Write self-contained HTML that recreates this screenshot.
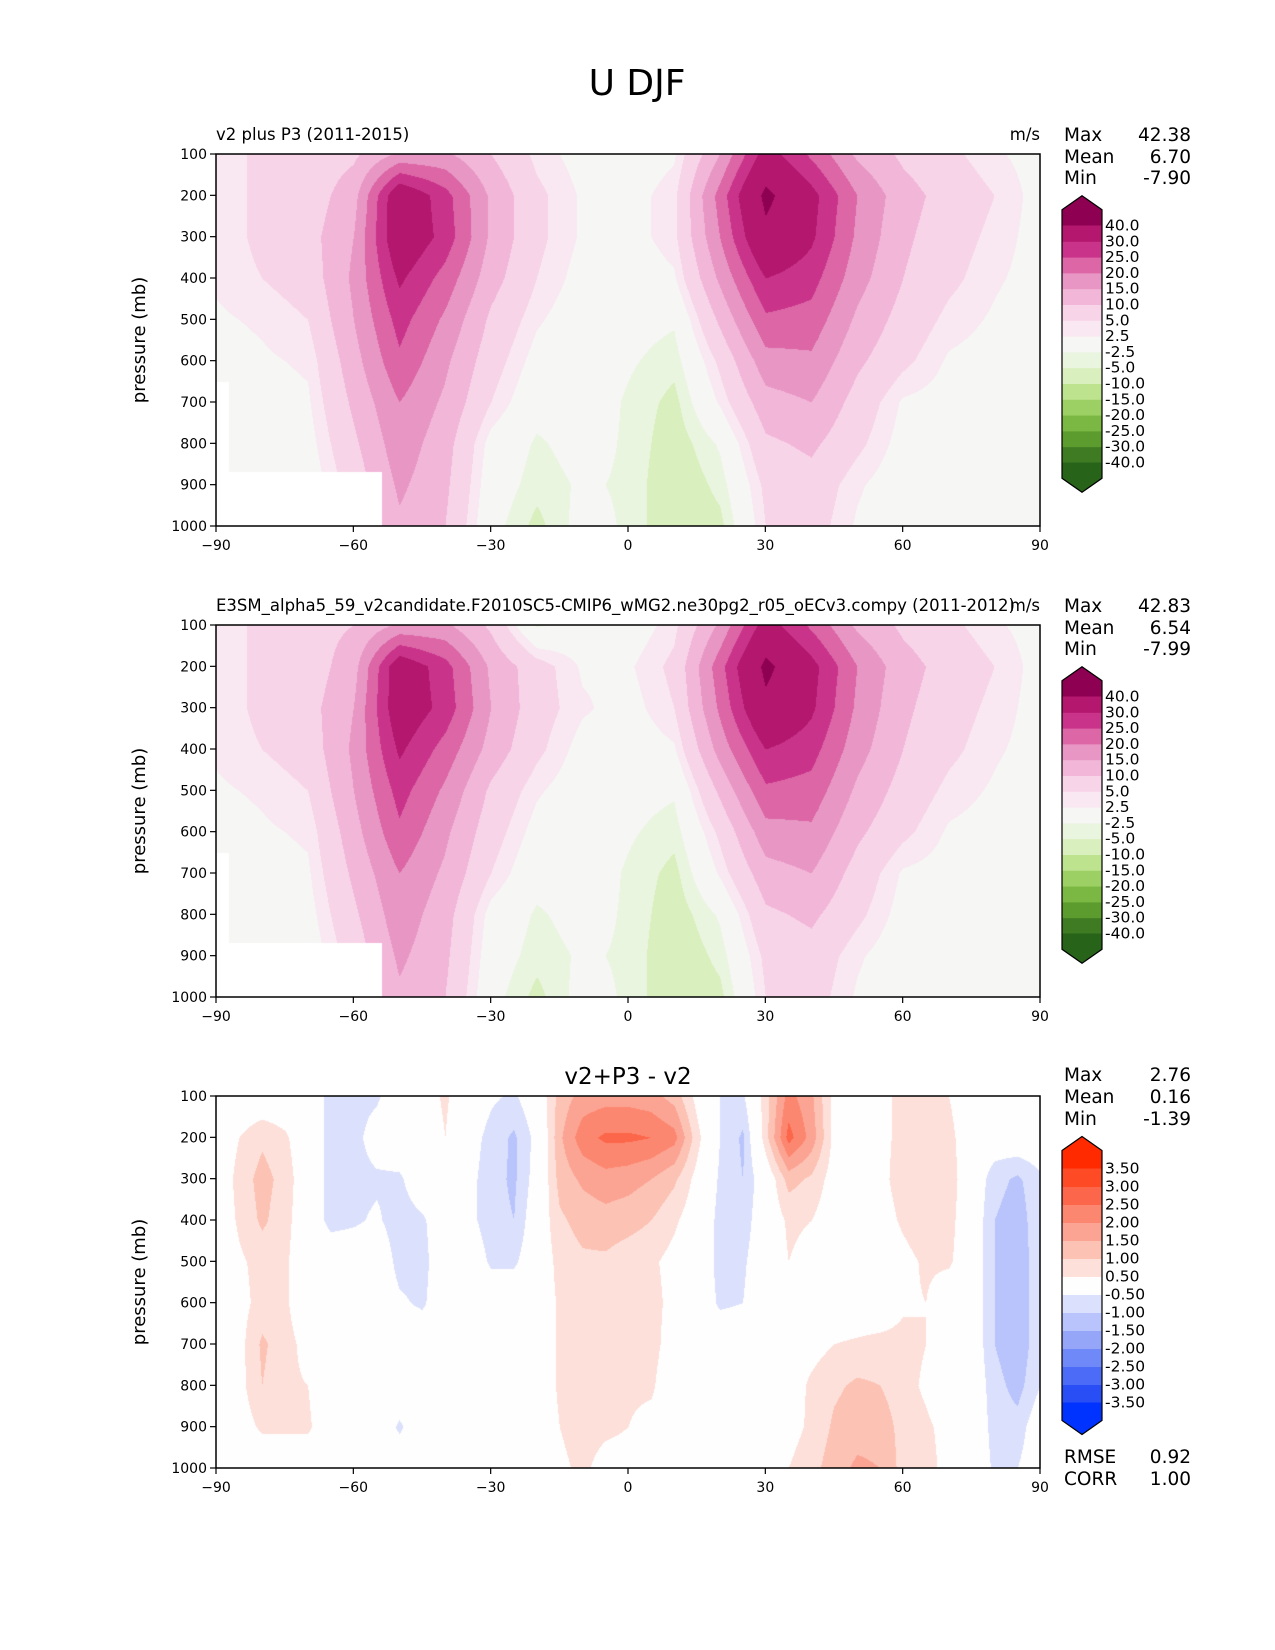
<!DOCTYPE html>
<html><head><meta charset="utf-8">
<style>
body{margin:0;background:#fff;}
#wrap{position:relative;width:1275px;height:1650px;overflow:hidden;background:#fff;font-family:"DejaVu Sans","Liberation Sans",sans-serif;}
canvas{position:absolute;}
svg{position:absolute;left:0;top:0;}
</style></head>
<body>
<div id="wrap">
<canvas id="c1" width="824" height="372" style="left:216px;top:154px"></canvas>
<canvas id="c2" width="824" height="372" style="left:216px;top:625px"></canvas>
<canvas id="c3" width="824" height="372" style="left:216px;top:1096px"></canvas>
<svg id="ov" width="1275" height="1650"></svg>
</div>
<script>
// ---- data ----
const lats10 = [-90,-80,-70,-60,-50,-40,-30,-20,-10,0,10,20,30,40,50,60,70,80,90];
const lats5 = [-90,-85,-80,-75,-70,-65,-60,-55,-50,-45,-40,-35,-30,-25,-20,-15,-10,-5,0,5,10,15,20,25,30,35,40,45,50,55,60,65,70,75,80,85,90];
const plevs = [100,200,300,400,500,600,700,800,900,1000];
const xTicks = [-90,-60,-30,0,30,60,90];
const yTicks = [100,200,300,400,500,600,700,800,900,1000];
const uLevels = [-40,-30,-25,-20,-15,-10,-5,-2.5,2.5,5,10,15,20,25,30,40];
const uLabels = ["-40.0","-30.0","-25.0","-20.0","-15.0","-10.0","-5.0","-2.5","2.5","5.0","10.0","15.0","20.0","25.0","30.0","40.0"];
const uColors = ["#276419","#3f7b23","#5c9b2e","#7ab743","#9ccf64","#bde38e","#d9efbe","#eaf5df","#f6f6f5","#f9e8f1","#f8d4e8","#f2b6d9","#e897c4","#dc66a6","#c9348a","#b4176e","#8e0152"];
const dLevels = [-3.5,-3,-2.5,-2,-1.5,-1,-0.5,0.5,1,1.5,2,2.5,3,3.5];
const dLabels = ["-3.50","-3.00","-2.50","-2.00","-1.50","-1.00","-0.50","0.50","1.00","1.50","2.00","2.50","3.00","3.50"];
const dColors = ["#0033ff","#2a4ef6","#4c6cf7","#7089f8","#95a6f9","#b8c4fb","#dbe1fc","#fefefe","#fde0da","#fcc2b4","#fca493","#fc8770","#fc664a","#ff4a26","#ff2a00"];
const u1 = [
[3,6,7,9,16,16,10,4,1,0,2,15,33,24,14,9,6,3,1],
[3,6,7,13,36,27,14,6,2,1,4,22,42,32,20,12,8,5,1],
[3,6,8,15,36,28,14,6,2,1,4,20,38,31,19,11,7,4,1],
[3,5,7,16,31,23,12,5,1,0,2,16,30,27,17,10,6,3,1],
[2,3,5,15,27,19,9,3,0,-1,-2,11,24,23,14,8,4,2,0],
[1,2,3,13,24,16,7,1,0,-2,-4,6,18,19,11,6,2,1,0],
[0,1,2,11,20,14,5,-1,0,-3,-6,3,13,15,8,2,1,0,0],
[0,0,1,9,18,12,1,-3,-1,-3,-7,-2,9,11,6,1,0,0,0],
[0,0,0,7,16,11,0,-4,-2,-3,-8,-4,6,8,3,0,0,0,0],
[0,0,0,6,14,10,-1,-6,-1,-3,-8,-6,5,7,2,0,0,0,0]];
const u2 = [
[3,6,8,10,16,16,9,-3,0,0,4,16,33,24,14,9,6,3,1],
[3,6,7,13,35,27,14,7,2,2,6,23,42,32,20,12,8,5,1],
[3,6,8,15,35,28,15,7,3,1,5,21,38,31,19,11,7,4,1],
[3,5,7,16,31,23,13,6,1,0,2,17,30,27,17,10,6,3,1],
[2,3,5,15,27,19,9,3,0,-1,-2,11,24,23,14,8,4,2,0],
[1,2,3,13,24,16,7,1,0,-2,-4,6,18,19,11,6,2,1,0],
[0,1,2,11,20,14,5,-1,0,-3,-6,3,13,15,8,2,1,0,0],
[0,0,1,9,18,12,1,-3,-1,-3,-7,-2,9,11,6,1,0,0,0],
[0,0,0,7,16,11,0,-4,-2,-3,-8,-4,6,8,3,0,0,0,0],
[0,0,0,6,14,10,-1,-6,-1,-3,-8,-6,5,7,2,0,0,0,0]];
const d3 = [
[0,0,0,0,0,-0.7,-0.7,-0.6,0,0.2,0.6,0,-0.4,-0.6,0,1.2,1.7,1.8,1.8,1.7,1.3,0.3,-0.5,-0.6,0.8,2.2,1.6,0.3,0,0.3,0.7,0.8,0.5,0,0,0,0],
[0,0.5,0.9,0.6,0,-0.7,-0.7,-0.2,0,0,0.5,-0.2,-0.7,-1.1,-0.3,1.4,2.3,2.6,2.6,2.5,2.2,0.7,-0.5,-1.1,0.8,2.7,1.8,0.3,0,0.3,0.7,0.9,0.7,0,-0.1,0,0],
[0,0.7,1.2,0.8,0,-0.7,-0.7,-0.6,-0.6,0,0,-0.3,-0.8,-1.1,-0.2,1.2,1.6,1.8,1.7,1.5,1.1,0.3,-0.6,-1.0,0,1.2,0.9,0.2,0,0.3,0.8,1.0,0.8,0,-0.8,-1.1,-0.6],
[0,0.6,1.1,0.7,0,-0.7,-0.6,-0.4,-0.8,-0.6,0,-0.3,-0.8,-1.0,0,0.9,1.2,1.3,1.2,1.0,0.6,0.1,-0.7,-0.8,0,0.6,0.5,0.1,0,0.2,0.6,0.9,0.7,0,-1.0,-1.3,-0.6],
[0,0.4,0.7,0.6,0,0,0,0,-0.7,-0.7,0,0,-0.6,-0.6,0,0.7,0.9,0.9,0.7,0.6,0.3,0,-0.7,-0.6,0,0.5,0.3,0,0,0,0.3,0.6,0.6,0,-1.0,-1.4,-0.6],
[0,0.3,0.7,0.6,0,0,0,0,-0.4,-0.6,0,0,0,0,0,0.6,0.7,0.6,0.6,0.7,0.3,0,-0.6,-0.5,0,0.3,0.3,0,0,0,0.4,0.5,0,0,-1.0,-1.4,-0.6],
[0,0.3,1.1,0.7,0.3,0,0,0,0,0,0,0,0,0,0,0.6,0.7,0.6,0.6,0.7,0.2,0,0,0,0,0.3,0.3,0.5,0.6,0.7,0.7,0.5,0,0,-1.0,-1.4,-0.6],
[0,0.3,1.0,0.6,0.5,0,0,0,0,0,0,0,0,0,0,0.6,0.7,0.7,0.6,0.6,0,0,0,0,0,0.2,0.6,0.9,1.1,1.0,0.7,0.4,0,0,-0.8,-1.2,-0.5],
[0,0.2,0.6,0.6,0.6,0,0,0,-0.6,0,0,0,0,0,0,0.5,0.7,0.6,0.5,0.3,0,0,0,0,0,0.3,0.6,1.1,1.3,1.3,0.8,0.6,0.3,0,-0.7,-0.8,0],
[0,0,0,0,0,0,0,0,0,0,0,0,0,0,0,0.4,0.6,0.3,0.3,0,0,0,0,0,0,0.5,0.8,1.3,1.6,1.5,0.8,0.7,0.3,0,-0.6,-0.5,0]];
const stats1 = ["42.38","6.70","-7.90"];
const stats2 = ["42.83","6.54","-7.99"];
const stats3 = ["2.76","0.16","-1.39"];

// ---- geometry ----
const PX=216, PW=824, PH=372;
const tops=[154,625,1096];
function xOf(lat){return PX+(lat+90)/180*PW;}
function yOf(p,top){return top+(p-100)/900*PH;}

function hex(h){return [parseInt(h.substr(1,2),16),parseInt(h.substr(3,2),16),parseInt(h.substr(5,2),16)];}
function interp(grid,lats,lat,p){
  let i=0; while(i<lats.length-2 && lat>lats[i+1]) i++;
  let j=0; while(j<plevs.length-2 && p>plevs[j+1]) j++;
  const tx=(lat-lats[i])/(lats[i+1]-lats[i]), ty=(p-plevs[j])/(plevs[j+1]-plevs[j]);
  const a=grid[j][i],b=grid[j][i+1],c=grid[j+1][i],d=grid[j+1][i+1];
  return (a*(1-tx)+b*tx)*(1-ty)+(c*(1-tx)+d*tx)*ty;
}
function band(v,levels){let k=0; while(k<levels.length && v>=levels[k]) k++; return k;}
function drawPanel(id,grid,lats,levels,colors,mask){
  const cv=document.getElementById(id), ctx=cv.getContext('2d');
  const img=ctx.createImageData(PW,PH); const cols=colors.map(hex);
  for(let y=0;y<PH;y++){
    const p=100+y/PH*900;
    for(let x=0;x<PW;x++){
      const lat=-90+x/PW*180;
      let c;
      if(mask && ((lat<-53.9 && p>867) || (lat<-87.3 && p>650))) c=[255,255,255];
      else c=cols[band(interp(grid,lats,lat,p),levels)];
      const o=(y*PW+x)*4; img.data[o]=c[0];img.data[o+1]=c[1];img.data[o+2]=c[2];img.data[o+3]=255;
    }
  }
  ctx.putImageData(img,0,0);
}
drawPanel('c1',u1,lats10,uLevels,uColors,true);
drawPanel('c2',u2,lats10,uLevels,uColors,true);
drawPanel('c3',d3,lats5,dLevels,dColors,false);

// ---- SVG overlay ----
const NS="http://www.w3.org/2000/svg", ov=document.getElementById('ov');
function el(tag,attrs,txt){const e=document.createElementNS(NS,tag);for(const k in attrs)e.setAttribute(k,attrs[k]);if(txt!==undefined)e.textContent=txt;ov.appendChild(e);return e;}

let t=el('text',{x:637,y:95,'font-size':36,'text-anchor':'middle'},'U DJF');



const titles=[['v2 plus P3 (2011-2015)','start'],['E3SM_alpha5_59_v2candidate.F2010SC5-CMIP6_wMG2.ne30pg2_r05_oECv3.compy (2011-2012)','start'],['v2+P3 - v2','middle']];
const statsAll=[stats1,stats2,stats3];
tops.forEach((top,k)=>{
  const f=el('rect',{x:PX,y:top,width:PW,height:PH,fill:'none',stroke:'#000','stroke-width':1.5});
  
  
  xTicks.forEach(v=>{
    const x=xOf(v);
    el('line',{x1:x,x2:x,y1:top+PH,y2:top+PH+6,stroke:'#000','stroke-width':1.2});
    const l=el('text',{x:x,y:top+PH+24,'font-size':14,'text-anchor':'middle'},(v<0?'\u2212'+(-v):''+v));
    
    
  });
  yTicks.forEach(v=>{
    const y=yOf(v,top);
    el('line',{x1:PX-6,x2:PX,y1:y,y2:y,stroke:'#000','stroke-width':1.2});
    const l=el('text',{x:PX-9,y:y+5,'font-size':14,'text-anchor':'end'},''+v);
    
    
  });
  const yl=el('text',{x:0,y:0,'font-size':18,'text-anchor':'middle',transform:`translate(145,${top+PH/2}) rotate(-90)`},'pressure (mb)');
  
  
  let st;
  if(k<2){ st=el('text',{x:PX,y:top-14,'font-size':16.5},titles[k][0]);
    const u=el('text',{x:PX+PW,y:top-14,'font-size':16.5,'text-anchor':'end'},'m/s');
    
    
  } else st=el('text',{x:PX+PW/2,y:top-12,'font-size':23,'text-anchor':'middle'},titles[k][0]);
  
  
  const sy = k<2 ? [top-19,top+3,top+24] : [top-21,top+1,top+23];
  ['Max','Mean','Min'].forEach((n,i)=>{
    const a=el('text',{x:1064,y:sy[i]+6,'font-size':18.5},n);
    
    
    const b=el('text',{x:1191,y:sy[i]+6,'font-size':18.5,'text-anchor':'end'},statsAll[k][i]);
    
    
  });
});
[['RMSE','0.92',1457],['CORR','1.00',1479]].forEach(r=>{
  const a=el('text',{x:1064,y:r[2]+6,'font-size':18.5},r[0]);
  
  
  const b=el('text',{x:1191,y:r[2]+6,'font-size':18.5,'text-anchor':'end'},r[1]);
  
  
});

// ---- colorbars ----
function colorbar(topLabelY,step,levels,labels,colors,name){
  const X=1062,W=40,n=levels.length;
  const yTopB=topLabelY;
  const yBot=topLabelY+(n-1)*step;
  for(let b=1;b<n;b++){
    const y0=yTopB+(n-1-b)*step;
    const r=el('rect',{x:X,y:y0,width:W,height:step+0.5,fill:colors[b]});
    
    
  }
  const top=el('polygon',{points:`${X},${yTopB} ${X},${yTopB-step} ${X+W/2},${yTopB-step-14} ${X+W},${yTopB-step} ${X+W},${yTopB}`,fill:colors[n]});
  
  
  const bot=el('polygon',{points:`${X},${yBot} ${X},${yBot+step} ${X+W/2},${yBot+step+14} ${X+W},${yBot+step} ${X+W},${yBot}`,fill:colors[0]});
  
  
  el('polygon',{points:`${X},${yTopB-step} ${X+W/2},${yTopB-step-14} ${X+W},${yTopB-step} ${X+W},${yBot+step} ${X+W/2},${yBot+step+14} ${X},${yBot+step}`,fill:'none',stroke:'#000','stroke-width':1.2});
  levels.forEach((v,i)=>{
    const y=yTopB+(n-1-i)*step;
    const l=el('text',{x:X+W+3,y:y+5,'font-size':15.5},labels[i]);
    
    
  });
}
colorbar(225.5,15.8,uLevels,uLabels,uColors,'colorbar-1');
colorbar(696.5,15.8,uLevels,uLabels,uColors,'colorbar-2');
colorbar(1168.5,18,dLevels,dLabels,dColors,'colorbar-diff');
</script>
</body></html>
